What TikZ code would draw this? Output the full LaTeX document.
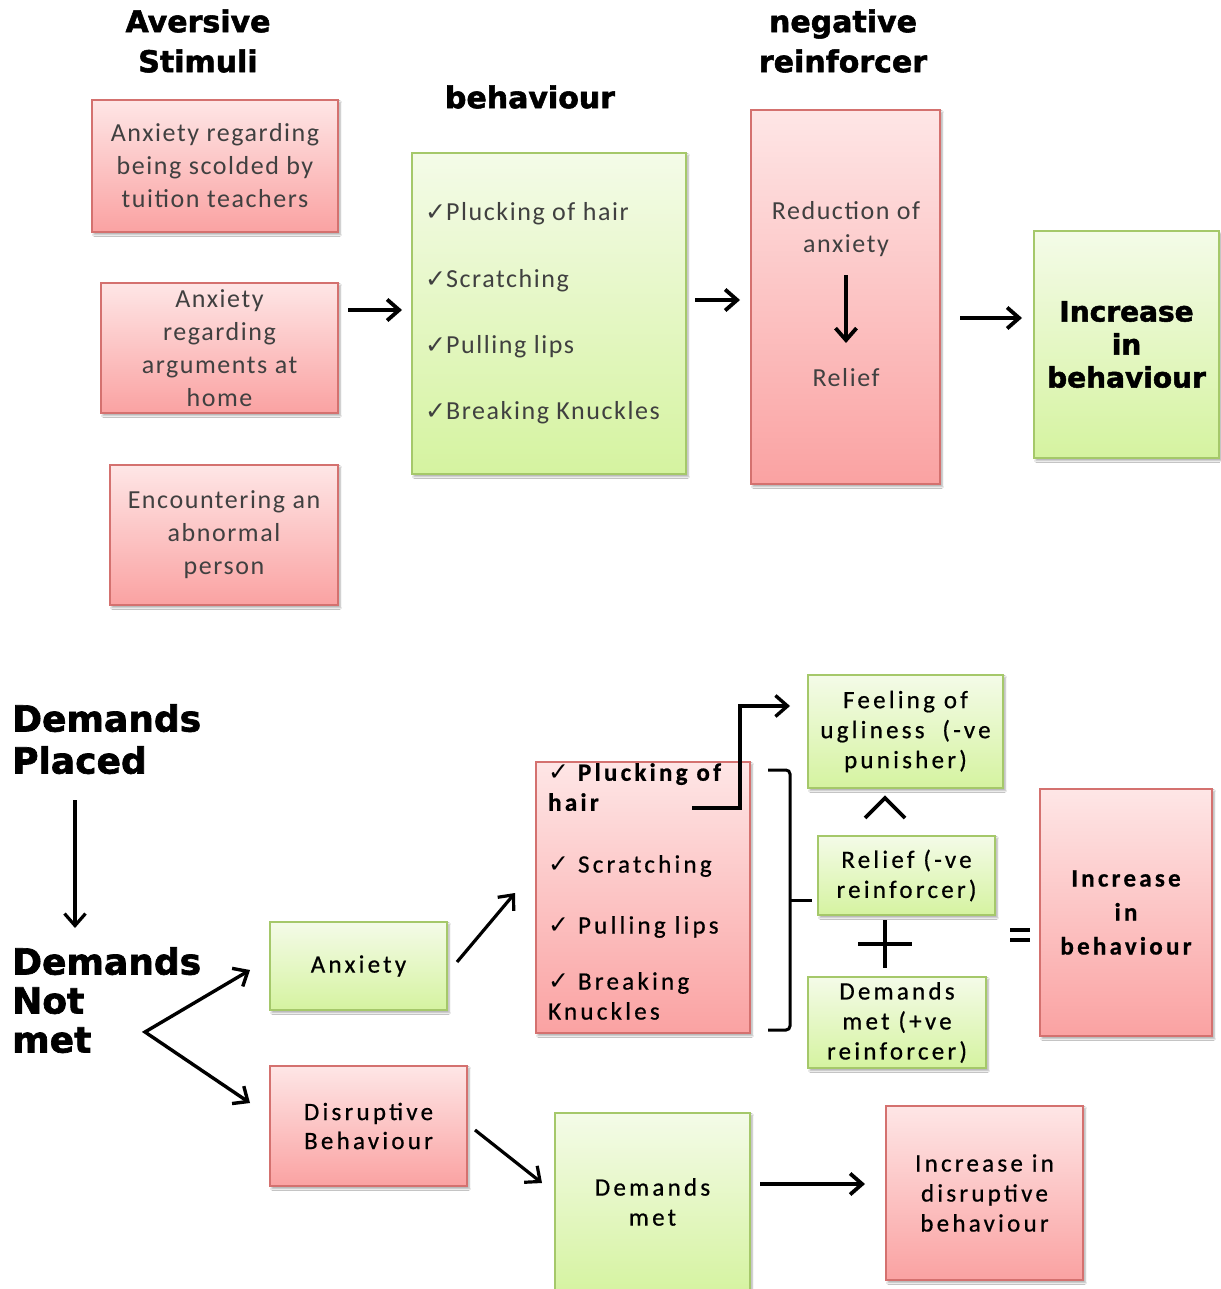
\documentclass[tikz,border=0pt]{standalone}
\usepackage{fontspec}
\setmainfont{Carlito}
\newfontfamily\tfont{Carlito}[LetterSpace=6]
\newfontfamily\bfontsp{Carlito}[LetterSpace=13, FakeBold=0.6]
\newfontfamily\hdfont{DejaVu Sans}[FakeBold=1.8]
\newfontfamily\ckfont{DejaVu Sans}
\usetikzlibrary{arrows.meta,shadows.blur}
\definecolor{redtop}{HTML}{FEE6E6}
\definecolor{redbot}{HTML}{FAA2A2}
\definecolor{redline}{HTML}{D4716F}
\definecolor{greentop}{HTML}{F4FBE8}
\definecolor{greenbot}{HTML}{D5F3A0}
\definecolor{greenline}{HTML}{A5C86A}
\definecolor{txtgray}{HTML}{404040}
\tikzset{
  box/.style={rectangle, inner sep=0pt, line width=1.5pt,
    blur shadow={shadow xshift=2pt, shadow yshift=-2.5pt, shadow blur steps=4, shadow opacity=35}},
  redbox/.style={box, draw=redline, top color=redtop, bottom color=redbot},
  greenbox/.style={box, draw=greenline, top color=greentop, bottom color=greenbot},
  toptext/.style={font={\tfont\fontsize{26}{33}\selectfont}, text=txtgray, align=center},
  bottext/.style={font={\bfontsp\fontsize{25}{30}\selectfont}, text=black, align=center},
  head/.style={font={\hdfont\bfseries\fontsize{30}{40}\selectfont}, align=center, inner sep=0pt},
  bighead/.style={font={\hdfont\bfseries\fontsize{36}{42}\selectfont}, align=left, inner sep=0pt},
  tip/.style={Straight Barb[length=12pt,width=21pt,line width=#1]},
  arr/.style={line width=3.8pt, -{Straight Barb[length=12pt,width=21pt,line width=3.8pt]}},
  thinarr/.style={line width=3.2pt, -{Straight Barb[length=12pt,width=21pt,line width=3.2pt]}},
  plain/.style={line width=3pt},
}
\newcommand\ck{{\ckfont\bfseries\fontsize{25}{25}\selectfont ✓}}
\begin{document}
\begin{tikzpicture}[x=1pt,y=-1pt]
\useasboundingbox (0,0) rectangle (1220,1289);
\fill[white] (0,0) rectangle (1220,1289);

% ---------- top part ----------
\node[head] (hav) at (198,41) {Aversive\\Stimuli};
\node[head] (hbeh) at (530,97) {behaviour};
\node[head] (hneg) at (843,41) {negative\\reinforcer};

\node[redbox, minimum width=246pt, minimum height=132pt, toptext] (a1) at (215,166)
  {Anxiety regarding\\being scolded by\\tuition teachers};
\node[redbox, minimum width=237pt, minimum height=130pt, toptext] (a2) at (219.5,348)
  {Anxiety\\regarding\\arguments at\\home};
\node[redbox, minimum width=228pt, minimum height=140pt, toptext] (a3) at (224,535)
  {Encountering an\\abnormal\\person};

\node[greenbox, minimum width=274pt, minimum height=321pt] (beh) at (549,313.5) {};
\node[toptext, anchor=west, inner sep=0pt] (b1) at (425,214) {\ck Plucking of hair};
\node[toptext, anchor=west, inner sep=0pt] (b2) at (425,281) {\ck Scratching};
\node[toptext, anchor=west, inner sep=0pt] (b3) at (425,347) {\ck Pulling lips};
\node[toptext, anchor=west, inner sep=0pt] (b4) at (425,413) {\ck Breaking Knuckles};

\node[redbox, minimum width=189pt, minimum height=374pt] (neg) at (845.5,297) {};
\node[toptext, inner sep=0pt] (nr1) at (846,229) {Reduction of\\anxiety};
\node[toptext, inner sep=0pt] (nr2) at (846,378) {Relief};

\node[greenbox, minimum width=185pt, minimum height=227pt,
      font={\hdfont\bfseries\fontsize{28}{33}\selectfont}, align=center] (inc) at (1126.5,344.5)
  {Increase\\in\\behaviour};

\coordinate (p1s) at (348,310); \coordinate (p1e) at (402,310);
\coordinate (p2s) at (695,300); \coordinate (p2e) at (740,300);
\coordinate (p3s) at (846,275); \coordinate (p3e) at (846,343);
\coordinate (p4s) at (960,318); \coordinate (p4e) at (1022,318);
\draw[arr] (p1s) -- (p1e);
\draw[arr] (p2s) -- (p2e);
\draw[arr] (p3s) -- (p3e);
\draw[arr] (p4s) -- (p4e);

% ---------- bottom part ----------
\node[bighead, anchor=north west] (dp) at (12,704) {Demands\\Placed};
\node[bighead, anchor=north west, font={\hdfont\bfseries\fontsize{36}{39}\selectfont}] (dnm) at (12,947) {Demands\\Not\\met};
\coordinate (d1) at (75,800); \coordinate (d2) at (75,928);
\draw[thinarr] (d1) -- (d2);

\node[greenbox, minimum width=177pt, minimum height=88pt, bottext] (anx) at (358.5,966) {Anxiety};
\node[redbox, minimum width=197pt, minimum height=120pt, bottext, font={\bfontsp\fontsize{25}{29}\selectfont}] (dis) at (368.5,1126) {Disruptive\\Behaviour};

\coordinate (vtip) at (145,1032);
\coordinate (vA) at (250,970);
\coordinate (vB) at (250,1103);
\draw[line width=3.4pt, {Straight Barb[length=12pt,width=21pt,line width=3.4pt]}-{Straight Barb[length=12pt,width=21pt,line width=3.4pt]}] (vA) -- (vtip) -- (vB);

\node[redbox, minimum width=214pt, minimum height=271pt] (list) at (643,897.5) {};
\node[bottext, align=left, anchor=north west, inner sep=0pt, font={\bfontsp\bfseries\fontsize{25}{30}\selectfont}] (l1) at (548,763) {\ck\ Plucking of\\hair};
\node[bottext, anchor=west, inner sep=0pt] (l2) at (548,866) {\ck\ Scratching};
\node[bottext, anchor=west, inner sep=0pt] (l3) at (548,927) {\ck\ Pulling lips};
\node[bottext, align=left, anchor=north west, inner sep=0pt] (l4) at (548,972) {\ck\ Breaking\\Knuckles};

\coordinate (ax1) at (457,962); \coordinate (ax2) at (515,893);
\draw[thinarr] (ax1) -- (ax2);

\node[greenbox, minimum width=195pt, minimum height=113pt, bottext] (feel) at (905.5,731.5) {Feeling of\\ugliness \ (-ve\\punisher)};
\node[greenbox, minimum width=177pt, minimum height=79pt, bottext] (relief) at (906.5,875.5) {Relief (-ve\\reinforcer)};
\node[greenbox, minimum width=178pt, minimum height=91pt, bottext] (dmet) at (897,1022.5) {Demands\\met (+ve\\reinforcer)};
\node[redbox, minimum width=172pt, minimum height=247pt, bottext, font={\bfontsp\bfseries\fontsize{25}{34}\selectfont}] (incb) at (1126,912.5) {Increase\\in\\behaviour};

% elbow arrow from list to feel
\coordinate (e0) at (692,808); \coordinate (e1) at (740,706); \coordinate (e2) at (790,706);
\draw[line width=3.4pt, -{Straight Barb[length=12pt,width=21pt,line width=3.4pt]}] (e0) -| (e1) -- (e2);

% bracket
\coordinate (br1) at (768,770); \coordinate (br2) at (790,770);
\coordinate (br3) at (790,1030); \coordinate (br4) at (768,1030);
\coordinate (brm) at (790,900); \coordinate (brt) at (812,900);
\draw[plain, rounded corners=4pt] (br1) -- (br2) -- (br3) -- (br4);
\draw[plain] (brm) -- (brt);

% caret
\coordinate (c1) at (865,818); \coordinate (c2) at (885,798); \coordinate (c3) at (905,818);
\draw[line width=3.8pt] (c1) -- (c2) -- (c3);

% plus
\coordinate (pl1) at (858,944); \coordinate (pl2) at (912,944);
\coordinate (pl3) at (885,920); \coordinate (pl4) at (885,968);
\draw[line width=4.2pt] (pl1) -- (pl2) (pl3) -- (pl4);

% equals
\coordinate (eq1) at (1010,930); \coordinate (eq2) at (1030,930);
\coordinate (eq3) at (1010,940); \coordinate (eq4) at (1030,940);
\draw[line width=3.5pt] (eq1) -- (eq2) (eq3) -- (eq4);

\node[greenbox, minimum width=195pt, minimum height=182pt, bottext] (dm2) at (652.5,1204) {};
\node[bottext, inner sep=0pt] (dm2t) at (652.5,1202) {Demands\\met};
\node[redbox, minimum width=197pt, minimum height=174pt, bottext] (idb) at (984.5,1193) {Increase in\\disruptive\\behaviour};

\coordinate (q1) at (475,1130); \coordinate (q2) at (542,1183);
\draw[thinarr] (q1) -- (q2);
\coordinate (r1) at (760,1184); \coordinate (r2) at (865,1184);
\draw[arr] (r1) -- (r2);
\end{tikzpicture}
\end{document}
